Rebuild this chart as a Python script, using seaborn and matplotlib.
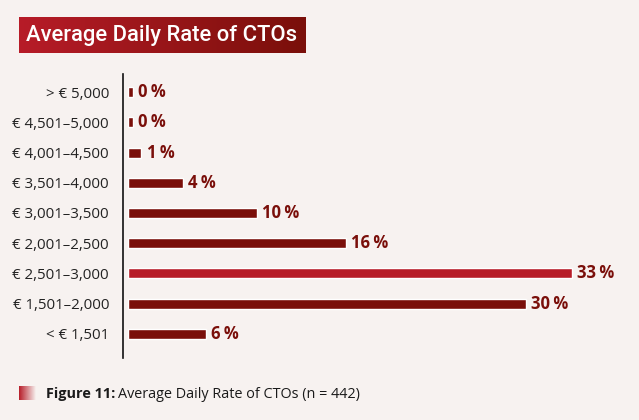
import numpy as np
import pandas as pd
import matplotlib.pyplot as plt
import seaborn as sns
from matplotlib.colors import LinearSegmentedColormap

# data (share of respondents, %)
categories = ["> € 5,000", "€ 4,501–5,000", "€ 4,001–4,500", "€ 3,501–4,000",
              "€ 3,001–3,500", "€ 2,001–2,500", "€ 2,501–3,000", "€ 1,501–2,000",
              "< € 1,501"]
values = [0.4, 0.4, 1.0, 4.1, 9.6, 16.2, 33.0, 29.6, 5.8]
highlight = "€ 2,501–3,000"

bg = "#F7F2F0"
dark = "#7A0F0A"
red = "#B71C28"

df = pd.DataFrame({"range": categories, "pct": values})
palette = {c: (red if c == highlight else dark) for c in categories}

sns.set_theme(style="white")
plt.rcParams["font.family"] = ["Open Sans", "DejaVu Sans"]

W, H = 639, 420
fig = plt.figure(figsize=(W / 100, H / 100), dpi=100, facecolor=bg)
ax = fig.add_axes([123 / W, 1 - 358 / H, 490 / W, 284 / H])
ax.set_facecolor(bg)

sns.barplot(data=df, y="range", x="pct", hue="range", palette=palette,
            order=categories, hue_order=categories, orient="h",
            width=0.33, legend=False, ax=ax, saturation=1)

for i, v in enumerate(values):
    ax.text(v + 0.38, i, f"{round(v)}\u2009%", va="center", ha="left",
            fontsize=12, fontweight="bold", color=dark)

ax.set_xlim(-0.37, 36.06)
ax.set_ylim(8.8, -0.6)
ax.set_xlabel("")
ax.set_ylabel("")
ax.set_xticks([])
for s in ["top", "right", "bottom"]:
    ax.spines[s].set_visible(False)
ax.spines["left"].set_color("#111111")
ax.spines["left"].set_linewidth(1.2)
ax.tick_params(axis="y", length=0, pad=10, labelsize=10.8, labelcolor="#222222")

# title banner with gradient
grad = np.linspace(0, 1, 256).reshape(1, -1)
cmap = LinearSegmentedColormap.from_list("g", [red, dark])
tax = fig.add_axes([19 / W, 1 - 53 / H, 287 / W, 36 / H])
tax.imshow(grad, aspect="auto", cmap=cmap, extent=[0, 1, 0, 1])
tax.set_axis_off()
fig.text(26 / W, 1 - 36 / H, "Average Daily Rate of CTOs", color="white",
         fontsize=15.8, fontweight="medium", family=["Roboto", "DejaVu Sans"],
         va="center", ha="left")

# caption marker with fading gradient
cax = fig.add_axes([19 / W, 1 - 400 / H, 17 / W, 14 / H])
rgba = np.zeros((1, 256, 4))
rgba[..., :3] = np.array([0xB7, 0x1C, 0x28]) / 255
rgba[..., 3] = np.linspace(1, 0, 256)
cax.imshow(rgba, aspect="auto", extent=[0, 1, 0, 1])
cax.set_axis_off()
t1 = fig.text(46 / W, 1 - 394 / H, "Figure 11:", fontsize=10.4, fontweight="bold",
              color="#1a1a1a", va="center", ha="left")
fig.canvas.draw()
bb = t1.get_window_extent()
fig.text(bb.x1 / W + 3 / W, 1 - 394 / H, "Average Daily Rate of CTOs (n = 442)",
         fontsize=10.4, color="#1a1a1a", va="center", ha="left")

fig.savefig("out.png", dpi=100, facecolor=bg)
